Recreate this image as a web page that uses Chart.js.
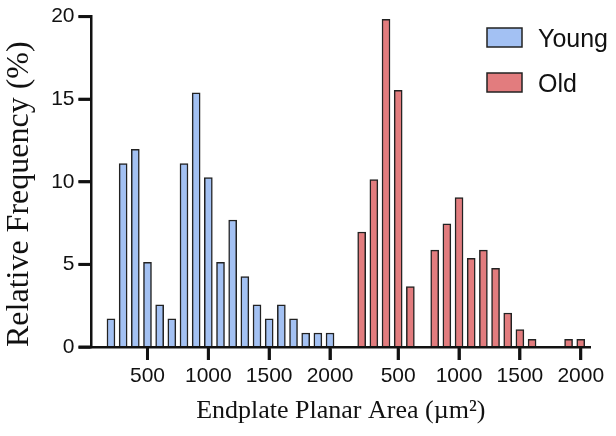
<!DOCTYPE html>
<html>
<head>
<meta charset="utf-8">
<script src="https://cdn.jsdelivr.net/npm/chart.js@4.4.1/dist/chart.umd.min.js"></script>
<style>
  html, body { margin: 0; padding: 0; background: #fff; }
  #wrap { width: 616px; height: 436px; position: relative; }
</style>
</head>
<body>
<div id="wrap"><canvas id="chart"></canvas></div>
<script>
"use strict";

// Histogram bins (µm²) and relative frequency (%) per group.
const YOUNG_BINS = [200, 300, 400, 500, 600, 700, 800, 900, 1000, 1100, 1200, 1300, 1400, 1500, 1600, 1700, 1800, 1900, 2000];
const YOUNG_VALUES = [1.71, 11.11, 11.97, 5.13, 2.56, 1.71, 11.11, 15.38, 10.26, 5.13, 7.69, 4.27, 2.56, 1.71, 2.56, 1.71, 0.85, 0.85, 0.85];
const OLD_BINS = [200, 300, 400, 500, 600, 700, 800, 900, 1000, 1100, 1200, 1300, 1400, 1500, 1600, 1700, 1800, 1900, 2000];
const OLD_VALUES = [6.96, 10.14, 19.84, 15.54, 3.66, 0, 5.86, 7.46, 9.04, 5.36, 5.86, 4.76, 2.06, 1.06, 0.46, 0, 0, 0.46, 0.46];
const TICK_LABELS = [500, 1000, 1500, 2000];
const Y_TICKS = [0, 5, 10, 15, 20];

// The Old histogram sits to the right of the Young one on a shared axis.
const OLD_OFFSET = 2060;

const SANS = "'Liberation Sans', Arial, sans-serif";
const SERIF = "'Liberation Serif', 'Times New Roman', serif";
const TICK_LEN = 13;

function points(bins, values, shift) {
  const out = [];
  bins.forEach((b, i) => {
    if (values[i] > 0) out.push({ x: b + shift, y: values[i] });
  });
  return out;
}

const tickValues = TICK_LABELS.concat(TICK_LABELS.map((t) => t + OLD_OFFSET));

// Legend inside the plot (top right) and outward tick marks.
const decorations = {
  id: "decorations",
  afterDraw(chart) {
    const ctx = chart.ctx;
    ctx.save();
    chart.data.datasets.forEach((ds, i) => {
      const y = 28 + i * 45;
      ctx.fillStyle = ds.backgroundColor;
      ctx.fillRect(487, y, 35, 19);
      ctx.lineWidth = 1.5;
      ctx.strokeStyle = "#222";
      ctx.strokeRect(487, y, 35, 19);
      ctx.fillStyle = "#111";
      ctx.font = "25px " + SANS;
      ctx.textBaseline = "middle";
      ctx.fillText(ds.label, 538, y + 12);
    });

    const xs = chart.scales.x;
    const ys = chart.scales.y;
    const axisY = ys.getPixelForValue(0);
    const axisX = xs.getPixelForValue(xs.min);
    ctx.fillStyle = "#111";
    for (const v of tickValues) {
      const px = xs.getPixelForValue(v);
      ctx.fillRect(px - 1.5, axisY, 3, TICK_LEN);
    }
    for (const v of Y_TICKS) {
      const py = ys.getPixelForValue(v);
      ctx.fillRect(axisX - TICK_LEN, py - 1.5, TICK_LEN, 3);
    }
    ctx.restore();
  },
};

new Chart(document.getElementById("chart"), {
  type: "bar",
  data: {
    datasets: [
      {
        label: "Young",
        data: points(YOUNG_BINS, YOUNG_VALUES, 0),
        backgroundColor: "#a3c1f3",
        borderColor: "#222",
        borderWidth: 1.5,
        borderSkipped: "start",
      },
      {
        label: "Old",
        data: points(OLD_BINS, OLD_VALUES, OLD_OFFSET),
        backgroundColor: "#e27c7e",
        borderColor: "#222",
        borderWidth: 1.5,
        borderSkipped: "start",
      },
    ],
  },
  options: {
    responsive: true,
    maintainAspectRatio: false,
    animation: false,
    datasets: { bar: { grouped: false, barThickness: 8 } },
    layout: { padding: { top: 13, right: 26, left: 0, bottom: 0 } },
    plugins: { legend: { display: false }, tooltip: { enabled: false } },
    scales: {
      x: {
        type: "linear",
        offset: false,
        min: 40,
        max: 4136,
        afterBuildTicks: (scale) => {
          scale.ticks = tickValues.map((v) => ({ value: v }));
        },
        afterFit: (scale) => { scale.height = 89; },
        ticks: {
          color: "#111",
          font: { family: SANS, size: 21 },
          padding: 4,
          maxRotation: 0,
          autoSkip: false,
          callback: (v) => String(v >= OLD_OFFSET ? v - OLD_OFFSET : v),
        },
        grid: { offset: false, drawOnChartArea: false, drawTicks: true, tickLength: TICK_LEN, tickWidth: 2.5, tickColor: "#111" },
        border: { display: true, color: "#111", width: 2.5, z: 1 },
        title: {
          display: true,
          text: "Endplate Planar Area (µm²)",
          color: "#111",
          font: { family: SERIF, size: 26 },
          padding: { top: 0, bottom: 9 },
        },
      },
      y: {
        min: 0,
        max: 20,
        afterFit: (scale) => { scale.width = 91.5; },
        ticks: {
          stepSize: 5,
          color: "#111",
          font: { family: SANS, size: 21 },
          padding: 4,
        },
        grid: { drawOnChartArea: false, drawTicks: true, tickLength: TICK_LEN, tickWidth: 2.5, tickColor: "#111" },
        border: { display: true, color: "#111", width: 2.5, z: 1 },
        title: {
          display: true,
          text: "Relative Frequency (%)",
          align: "start",
          color: "#111",
          font: { family: SERIF, size: 32 },
          padding: { top: 0, bottom: 0 },
        },
      },
    },
  },
  plugins: [decorations],
});
</script>
</body>
</html>
